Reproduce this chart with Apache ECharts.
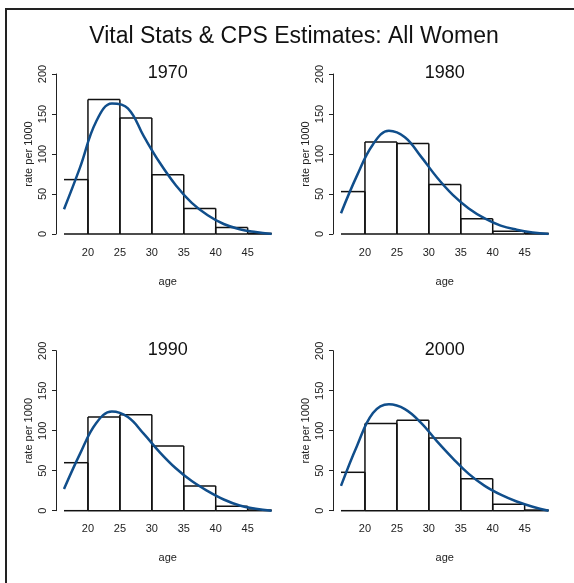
<!DOCTYPE html>
<html>
<head>
<meta charset="utf-8">
<script src="https://cdn.jsdelivr.net/npm/echarts@6/dist/echarts.min.js"></script>
<style>
  html, body { margin: 0; padding: 0; background: #fff; }
  #main { width: 574px; height: 583px; }
</style>
</head>
<body>
<div id="main"></div>
<script>
// age groups (left edge of each 5-year bin)
const binStart = [15, 20, 25, 30, 35, 40, 45]
const binWidth = 5

// vital stats rates per 1000, by age group
const bars1970 = [68, 168, 145, 74, 32, 8, 0.8]
const bars1980 = [53, 115, 113, 62, 19, 3.5, 0.8]
const bars1990 = [60, 117, 120, 81, 31, 5.5, 0.8]
const bars2000 = [48, 109, 113, 91, 40, 8, 0.8]

// CPS estimate curves, read at these ages
const curveAges = [16.25, 18.75, 21.25, 23.75, 26.25, 28.75, 31.25, 33.75, 36.25, 38.75, 41.25, 43.75, 46.25, 48.75]
const curve1970 = [31, 83, 140, 163, 157, 122, 89, 61, 39, 23.5, 12.5, 6, 2.5, 0]
const curve1980 = [26, 73, 112, 129, 121, 97, 71, 49, 32, 19.5, 10.5, 5.4, 2, 0]
const curve1990 = [27, 71, 109, 124, 117, 96, 73, 53, 37, 24.5, 14, 6.5, 2.5, 0]
const curve2000 = [31, 81, 122, 133, 127, 110, 87, 65.5, 46, 31, 20, 11.5, 5, 0]

const yTicks = [0, 50, 100, 150, 200]
const xTicks = [20, 25, 30, 35, 40, 45]

const FONT = '"Liberation Sans", Arial, sans-serif'

let panels = [
  { year: '1970', bars: bars1970, curve: curve1970, left: 64, top: 74 },
  { year: '1980', bars: bars1980, curve: curve1980, left: 341, top: 74 },
  { year: '1990', bars: bars1990, curve: curve1990, left: 64, top: 350.7 },
  { year: '2000', bars: bars2000, curve: curve2000, left: 341, top: 350.7 }
]
const plotW = 207.6
const plotH = 160

// step bars, clipped at the plot edges (no side drawn where it is cut)
function renderBar(params, api) {
  let lo = api.value(0)
  let hi = api.value(1)
  let v = api.value(2)
  let cs = params.coordSys
  let p0 = api.coord([lo, 0])
  let p1 = api.coord([hi, v])
  let x0 = Math.max(p0[0], cs.x)
  let x1 = Math.min(p1[0], cs.x + cs.width)
  let yb = p0[1]
  let yt = p1[1]
  let style = { stroke: '#111', lineWidth: 1.5, fill: null }
  let children = [
    { type: 'line', shape: { x1: x0, y1: yt, x2: x1, y2: yt }, style },
    { type: 'line', shape: { x1: x0, y1: yb, x2: x1, y2: yb }, style }
  ]
  if (p0[0] >= cs.x) children.push({ type: 'line', shape: { x1: x0, y1: yt, x2: x0, y2: yb }, style })
  if (p1[0] <= cs.x + cs.width) children.push({ type: 'line', shape: { x1: x1, y1: yt, x2: x1, y2: yb }, style })
  return { type: 'group', children }
}

let grid = []
let xAxis = []
let yAxis = []
let series = []
let graphic = [
  // frame (cut off at right and bottom in the original)
  { type: 'rect', shape: { x: 6, y: 9, width: 700, height: 700 }, style: { fill: null, stroke: '#222', lineWidth: 2 }, silent: true },
  { type: 'text', x: 294, y: 37, style: { text: 'Vital Stats & CPS Estimates: All Women', font: '23px ' + FONT, fill: '#111', align: 'center', verticalAlign: 'middle' } }
]

panels.forEach((p, i) => {
  grid.push({ left: p.left, top: p.top, width: plotW, height: plotH, outerBoundsMode: 'none' })
  xAxis.push({
    type: 'value', gridIndex: i, min: 16.25, max: 48.75,
    axisLine: { show: false }, axisTick: { show: false }, splitLine: { show: false },
    axisLabel: { customValues: xTicks, margin: 13, fontSize: 11, color: '#222', fontFamily: FONT },
    name: 'age', nameLocation: 'middle', nameGap: 42,
    nameTextStyle: { fontSize: 11, color: '#222', fontFamily: FONT }
  })
  yAxis.push({
    type: 'value', gridIndex: i, min: 0, max: 200, interval: 50, offset: 8,
    axisLine: { show: true, lineStyle: { color: '#222', width: 1 } },
    axisTick: { show: true, length: 4, lineStyle: { color: '#222' } },
    splitLine: { show: false },
    axisLabel: { rotate: 90, margin: 8, fontSize: 11, color: '#222', fontFamily: FONT,
      customValues: yTicks },
    name: 'rate per 1000', nameLocation: 'middle', nameGap: 22,
    nameTextStyle: { fontSize: 11, color: '#222', fontFamily: FONT }
  })
  series.push({
    type: 'custom', xAxisIndex: i, yAxisIndex: i, clip: false,
    renderItem: renderBar,
    encode: { x: [0, 1], y: 2 },
    data: binStart.map((s, k) => [s, s + binWidth, p.bars[k]])
  })
  series.push({
    type: 'line', xAxisIndex: i, yAxisIndex: i, smooth: 0.4, symbol: 'none', z: 5,
    lineStyle: { color: '#104E8B', width: 2.5 },
    data: curveAges.map((a, k) => [a, p.curve[k]])
  })
  graphic.push({
    type: 'text', x: p.left + plotW / 2, y: p.top - 1,
    style: { text: p.year, font: '18px ' + FONT, fill: '#111', align: 'center', verticalAlign: 'middle' }
  })
})

let chart = echarts.init(document.getElementById('main'), null, { renderer: 'canvas' })
chart.setOption({
  animation: false,
  backgroundColor: '#fff',
  grid,
  xAxis,
  yAxis,
  series,
  graphic
})
</script>
</body>
</html>
